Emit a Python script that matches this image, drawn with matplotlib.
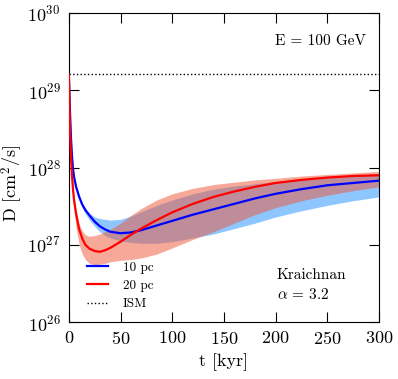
import numpy as np
import matplotlib
matplotlib.use("Agg")
import matplotlib.pyplot as plt

plt.rcParams['font.family'] = 'serif'
plt.rcParams['font.serif'] = ['cmr10']
plt.rcParams['mathtext.fontset'] = 'cm'
plt.rcParams['axes.formatter.use_mathtext'] = True

# time grid [kyr]
t = [0, 1, 2, 3, 4, 5, 7, 10, 13, 16, 20, 25, 30, 35, 40, 50, 60, 70, 85,
     100, 120, 140, 160, 180, 200, 225, 250, 275, 300]

# log10 of D [cm^2/s]
blue_line = [29.2, 28.75, 28.4, 28.15, 27.98, 27.88, 27.75, 27.62, 27.52, 27.45,
             27.38, 27.3, 27.24, 27.2, 27.17, 27.15, 27.16, 27.19, 27.25,
             27.31, 27.39, 27.46, 27.53, 27.6, 27.66, 27.72, 27.77, 27.8, 27.83]
blue_hi = [29.2, 28.78, 28.44, 28.2, 28.03, 27.92, 27.78, 27.64, 27.54, 27.47,
           27.41, 27.36, 27.34, 27.33, 27.32, 27.33, 27.37, 27.43, 27.51,
           27.58, 27.66, 27.72, 27.76, 27.79, 27.82, 27.85, 27.87, 27.9, 27.92]
blue_lo = [29.2, 28.72, 28.36, 28.1, 27.93, 27.84, 27.7, 27.58, 27.48, 27.4,
           27.32, 27.24, 27.17, 27.12, 27.09, 27.05, 27.03, 27.02, 27.02,
           27.04, 27.09, 27.14, 27.21, 27.28, 27.36, 27.44, 27.51, 27.57, 27.62]

red_line = [29.2, 28.55, 28.15, 27.9, 27.72, 27.58, 27.4, 27.2, 27.08, 27.0,
            26.95, 26.92, 26.91, 26.93, 26.96, 27.04, 27.13, 27.21, 27.32,
            27.42, 27.53, 27.62, 27.69, 27.75, 27.8, 27.84, 27.87, 27.89, 27.9]
red_hi = [29.2, 28.6, 28.2, 27.95, 27.78, 27.64, 27.45, 27.27, 27.18, 27.13,
          27.11, 27.12, 27.14, 27.17, 27.2, 27.28, 27.38, 27.47, 27.58,
          27.66, 27.73, 27.78, 27.81, 27.84, 27.86, 27.89, 27.91, 27.93, 27.95]
red_lo = [29.2, 28.5, 28.05, 27.8, 27.6, 27.45, 27.22, 27.0, 26.88, 26.81,
          26.76, 26.74, 26.75, 26.76, 26.78, 26.8, 26.81, 26.83, 26.88,
          26.96, 27.07, 27.17, 27.28, 27.39, 27.48, 27.57, 27.64, 27.7, 27.75]

D_ism = 1.62e29
labels = ['10 pc', '20 pc', 'ISM']

t = np.array(t)
p = lambda a: 10.0 ** np.array(a)

fig = plt.figure(figsize=(3.98, 3.79), dpi=100)
ax = fig.add_axes([0.173, 0.150, 0.779, 0.816])

# uncertainty bands
ax.fill_between(t, p(blue_lo), p(blue_hi), color='#1e90ff', alpha=0.5, lw=0)
ax.fill_between(t, p(red_lo), p(red_hi), color='#f05535', alpha=0.5, lw=0)

# curves
ax.plot(t, p(blue_line), color='blue', lw=1.6, label=labels[0], zorder=5)
ax.plot(t, p(red_line), color='red', lw=1.6, label=labels[1], zorder=5)
ax.axhline(D_ism, color='black', ls=':', lw=1.0, label=labels[2])

ax.set_yscale('log')
ax.set_xlim(0, 300)
ax.set_ylim(1e26, 1e30)
ax.set_xticks([0, 50, 100, 150, 200, 250, 300])
ax.yaxis.set_minor_locator(matplotlib.ticker.NullLocator())
ax.tick_params(which='major', direction='in', top=True, right=True,
               length=7, width=0.8, labelsize=13, pad=6)

ax.set_xlabel('t [kyr]', fontsize=13)
ax.set_ylabel(r'D [cm$^{2}$/s]', fontsize=13)
ax.yaxis.set_label_coords(-0.143, 0.45)

ax.text(0.96, 0.91, 'E = 100 GeV', transform=ax.transAxes, ha='right',
        va='center', fontsize=11)
ax.text(0.67, 0.12, 'Kraichnan\n' + r'$\alpha$ = 3.2', transform=ax.transAxes,
        ha='left', va='center', fontsize=11, linespacing=1.4)

ax.legend(loc='lower left', bbox_to_anchor=(0.02, 0.0), frameon=False,
          fontsize=9.5, handlelength=1.6, handletextpad=1.1, labelspacing=0.45)

fig.savefig('out.png', dpi=100)
